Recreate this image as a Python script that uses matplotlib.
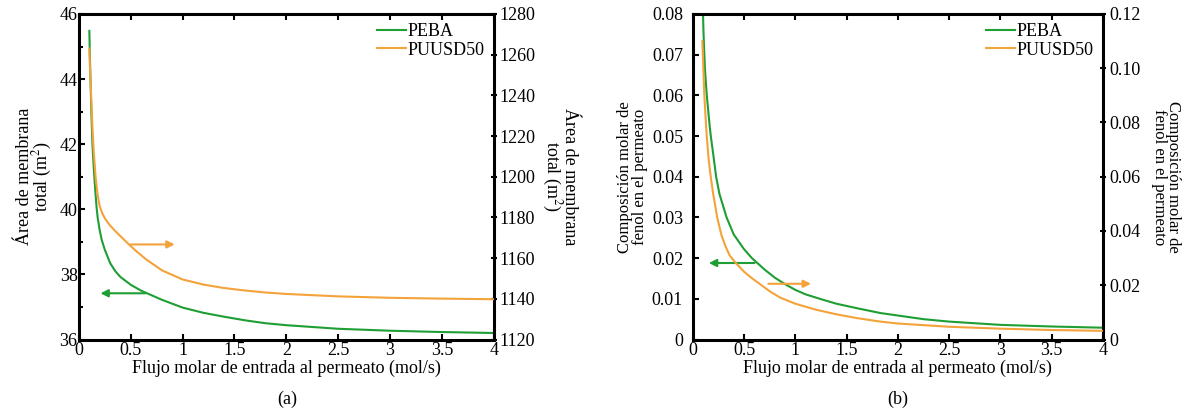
import matplotlib
matplotlib.use('Agg')
import matplotlib.pyplot as plt

plt.rcParams['font.family'] = ['Liberation Serif', 'DejaVu Serif']
plt.rcParams['mathtext.fontset'] = 'stix'

# (a) area de membrana vs flujo
xa_peba = [0.1, 0.105, 0.11, 0.115, 0.12, 0.13, 0.14, 0.15, 0.16, 0.17, 0.18, 0.2, 0.22,
           0.25, 0.3, 0.35, 0.4, 0.45, 0.5, 0.6, 0.7, 0.8, 0.9, 1.0, 1.2, 1.4, 1.6, 1.8,
           2.0, 2.5, 3.0, 3.5, 4.0]
ya_peba = [45.48, 44.7, 44.1, 43.5, 42.9, 42.0, 41.4, 40.9, 40.45, 40.05, 39.75, 39.35, 39.05,
           38.75, 38.35, 38.1, 37.92, 37.8, 37.68, 37.5, 37.36, 37.22, 37.1, 36.98, 36.82,
           36.7, 36.59, 36.5, 36.44, 36.33, 36.27, 36.23, 36.2]
xa_puu = [0.1, 0.105, 0.11, 0.115, 0.12, 0.13, 0.14, 0.16, 0.18, 0.2, 0.225, 0.25, 0.3, 0.35,
          0.4, 0.47, 0.55, 0.65, 0.8, 1.0, 1.2, 1.4, 1.6, 1.8, 2.0, 2.5, 3.0, 3.5, 4.0]
ya_puu = [1263, 1255, 1249, 1243, 1236, 1224, 1214, 1200, 1191, 1185.5, 1182, 1179.5, 1176,
          1173.3, 1170.8, 1167.3, 1163.5, 1159.3, 1154, 1149.5, 1147, 1145.3, 1144.1, 1143.1,
          1142.4, 1141.2, 1140.5, 1140.1, 1139.8]

# (b) composicion molar de fenol en el permeato
xb_peba = [0.1, 0.105, 0.113, 0.12, 0.13, 0.137, 0.15, 0.165, 0.176, 0.2, 0.228, 0.26, 0.3,
           0.33, 0.4, 0.5, 0.577, 0.63, 0.7, 0.8, 0.9, 1.0, 1.1, 1.24, 1.4, 1.6, 1.83, 2.0,
           2.25, 2.5, 3.0, 3.5, 4.0]
yb_peba = [0.080, 0.0755, 0.070, 0.066, 0.0625, 0.060, 0.0565, 0.0525, 0.050, 0.0455, 0.040,
           0.0358, 0.0325, 0.030, 0.0258, 0.0222, 0.020, 0.0188, 0.0172, 0.0152, 0.0136,
           0.0122, 0.0111, 0.0100, 0.0088, 0.0077, 0.0065, 0.0059, 0.0050, 0.0044, 0.0036,
           0.0032, 0.0029]
xb_puu = [0.094, 0.1, 0.107, 0.113, 0.125, 0.137, 0.155, 0.176, 0.2, 0.24, 0.28, 0.32, 0.36,
          0.42, 0.5, 0.58, 0.66, 0.75, 0.85, 1.0, 1.2, 1.4, 1.6, 1.83, 2.0, 2.5, 3.0, 3.5, 4.0]
yb_puu = [0.110, 0.1035, 0.096, 0.090, 0.082, 0.0747, 0.0665, 0.0598, 0.0535, 0.0447, 0.0385,
          0.0343, 0.031, 0.0282, 0.025, 0.0225, 0.0203, 0.0178, 0.0155, 0.0132, 0.0110,
          0.0093, 0.0079, 0.0066, 0.0059, 0.0047, 0.0040, 0.0035, 0.0032]

green = '#1f9e34'
orange = '#f4a23a'
fs = 13

fig = plt.figure(figsize=(11.95, 4.19), dpi=100)
ax1 = fig.add_axes([0.0661, 0.1897, 0.347, 0.777])
ax3 = fig.add_axes([0.5797, 0.1897, 0.3433, 0.777])


def style(ax, tw, ypad):
    for s in ax.spines.values():
        s.set_linewidth(2.2)
    ax.tick_params(axis='x', direction='in', top=True, length=4, width=1.5, labelsize=fs, pad=2)
    ax.tick_params(axis='y', direction='in', length=4, width=1.5, labelsize=fs, pad=ypad)
    ax.tick_params(which='minor', direction='in', length=3, width=1.5)
    tw.tick_params(axis='y', direction='inout', length=5, width=1.5, labelsize=fs, pad=2)
    ax.set_xlim(0, 4)
    ax.set_xticks([0, 0.5, 1, 1.5, 2, 2.5, 3, 3.5, 4])
    ax.set_xticklabels(['0', '0.5', '1', '1.5', '2', '2.5', '3', '3.5', '4'])
    ax.set_xlabel('Flujo molar de entrada al permeato (mol/s)', fontsize=fs, labelpad=0)


# panel (a)
ax2 = ax1.twinx()
l1, = ax1.plot(xa_peba, ya_peba, color=green, lw=1.5, label='PEBA')
l2, = ax2.plot(xa_puu, ya_puu, color=orange, lw=1.5, label='PUUSD50')
ax1.set_ylim(36, 46)
ax1.set_yticks([36, 38, 40, 42, 44, 46])
ax1.set_yticks([37, 39, 41, 43, 45], minor=True)
ax2.set_ylim(1120, 1280)
ax2.set_yticks(range(1120, 1281, 20))
style(ax1, ax2, 1)
ax1.set_ylabel('Área de membrana\ntotal (m$^2$)', fontsize=fs, labelpad=4, linespacing=0.85)
ax2.set_ylabel('Área de membrana\ntotal (m$^2$)', fontsize=fs, rotation=270, labelpad=30,
               linespacing=0.85)
ax1.annotate('', xy=(0.95, 38.92), xytext=(0.47, 38.92),
             arrowprops=dict(arrowstyle='-|>', color=orange, lw=1.5, mutation_scale=11))
ax1.annotate('', xy=(0.18, 37.42), xytext=(0.67, 37.42),
             arrowprops=dict(arrowstyle='-|>', color=green, lw=1.5, mutation_scale=11))
ax1.legend(handles=[l1, l2], loc='upper right', frameon=False, fontsize=fs, handlelength=1.6,
           handletextpad=0.1, borderaxespad=0.2, labelspacing=0.1, borderpad=0.3)

# panel (b)
ax4 = ax3.twinx()
l3, = ax3.plot(xb_peba, yb_peba, color=green, lw=1.5, label='PEBA')
l4, = ax4.plot(xb_puu, yb_puu, color=orange, lw=1.5, label='PUUSD50')
ax3.set_ylim(0, 0.08)
ax3.set_yticks([0, 0.01, 0.02, 0.03, 0.04, 0.05, 0.06, 0.07, 0.08])
ax3.set_yticklabels(['0', '0.01', '0.02', '0.03', '0.04', '0.05', '0.06', '0.07', '0.08'])
ax4.set_ylim(0, 0.12)
ax4.set_yticks([0, 0.02, 0.04, 0.06, 0.08, 0.10, 0.12])
ax4.set_yticklabels(['0', '0.02', '0.04', '0.06', '0.08', '0.10', '0.12'])
style(ax3, ax4, 7)
ax3.set_ylabel('Composición molar de\nfenol en el permeato', fontsize=12, labelpad=3,
               linespacing=0.85)
ax4.set_ylabel('Composición molar de\nfenol en el permeato', fontsize=12, rotation=270,
               labelpad=29, linespacing=0.85)
ax3.annotate('', xy=(0.13, 0.0188), xytext=(0.63, 0.0188),
             arrowprops=dict(arrowstyle='-|>', color=green, lw=1.5, mutation_scale=11))
ax3.annotate('', xy=(1.18, 0.0137), xytext=(0.71, 0.0137),
             arrowprops=dict(arrowstyle='-|>', color=orange, lw=1.5, mutation_scale=11))
ax3.legend(handles=[l3, l4], loc='upper right', frameon=False, fontsize=fs, handlelength=1.6,
           handletextpad=0.1, borderaxespad=0.2, labelspacing=0.1, borderpad=0.3)

fig.text(0.240, 0.035, '(a)', ha='center', fontsize=fs)
fig.text(0.751, 0.035, '(b)', ha='center', fontsize=fs)

fig.savefig('out.png', dpi=100)
